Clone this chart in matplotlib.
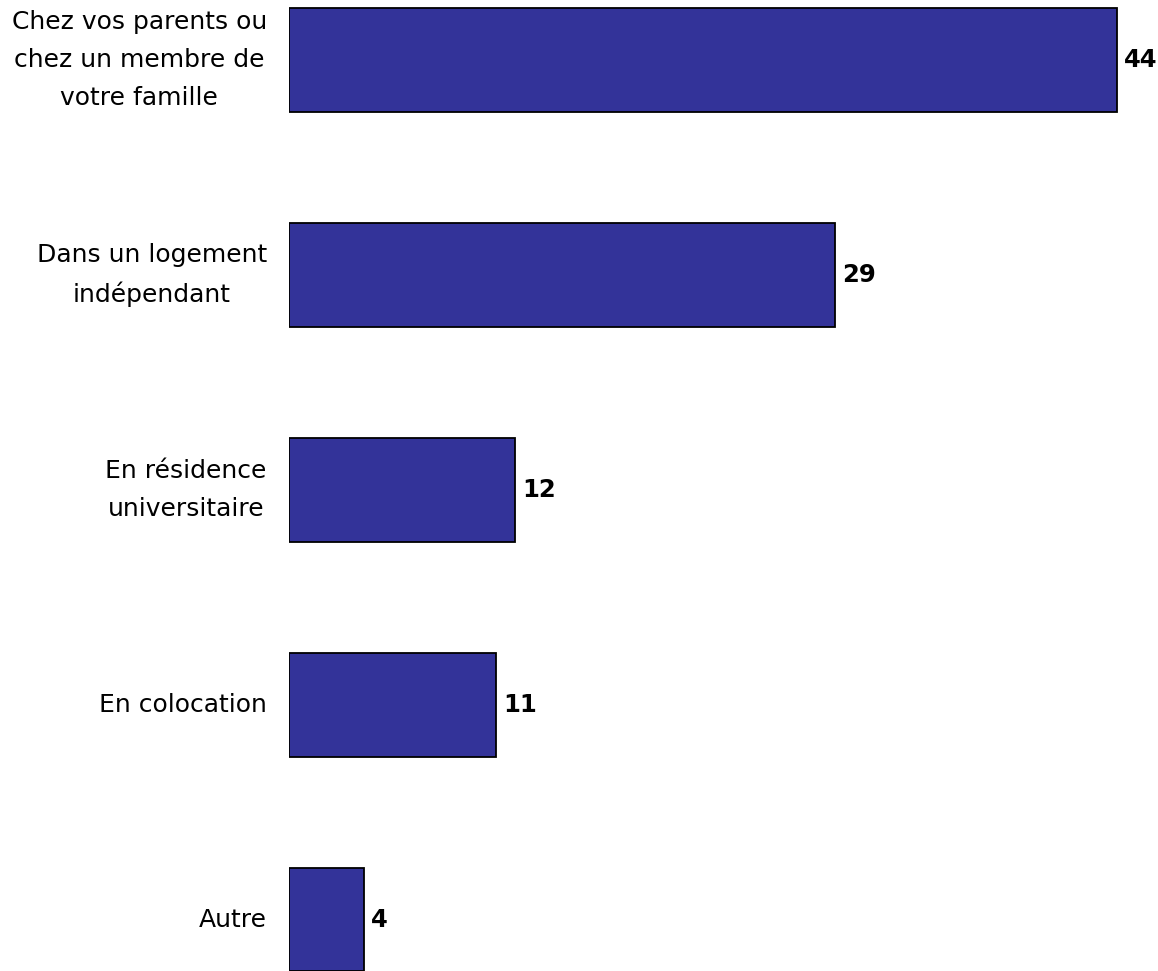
import matplotlib
matplotlib.use('Agg')
import matplotlib.pyplot as plt

categories = [
    'Chez vos parents ou\nchez un membre de\nvotre famille',
    'Dans un logement\nindépendant',
    'En résidence\nuniversitaire',
    'En colocation',
    'Autre',
]
values = [44, 29, 12, 11, 4]

W, H = 1158, 971
fig = plt.figure(figsize=(W / 100, H / 100), dpi=100)
left = 289
ax = fig.add_axes([left / W, 0, (W - left) / W, 1])

px_per_unit = (1117 - left) / 44
row = 214.9
ypos = list(range(len(values)))
ax.barh(ypos, values, height=104 / row, color='#333399',
        edgecolor='black', linewidth=1.3)

ax.set_xlim(0, (W - left) / px_per_unit)
ax.set_ylim(len(values) - 1 + 51.5 / row, -60 / row)

for y, v, lab in zip(ypos, values, categories):
    ax.annotate(str(v), (v, y), xytext=(5, 0), textcoords='offset points',
                va='center', ha='left', fontsize=17.5, fontweight='bold')
    ax.annotate(lab, (0, y), xytext=(-16, 0), textcoords='offset points',
                va='center', ha='right', multialignment='center',
                fontsize=18, linespacing=1.72)

ax.axis('off')
fig.savefig('out.png', dpi=100)
